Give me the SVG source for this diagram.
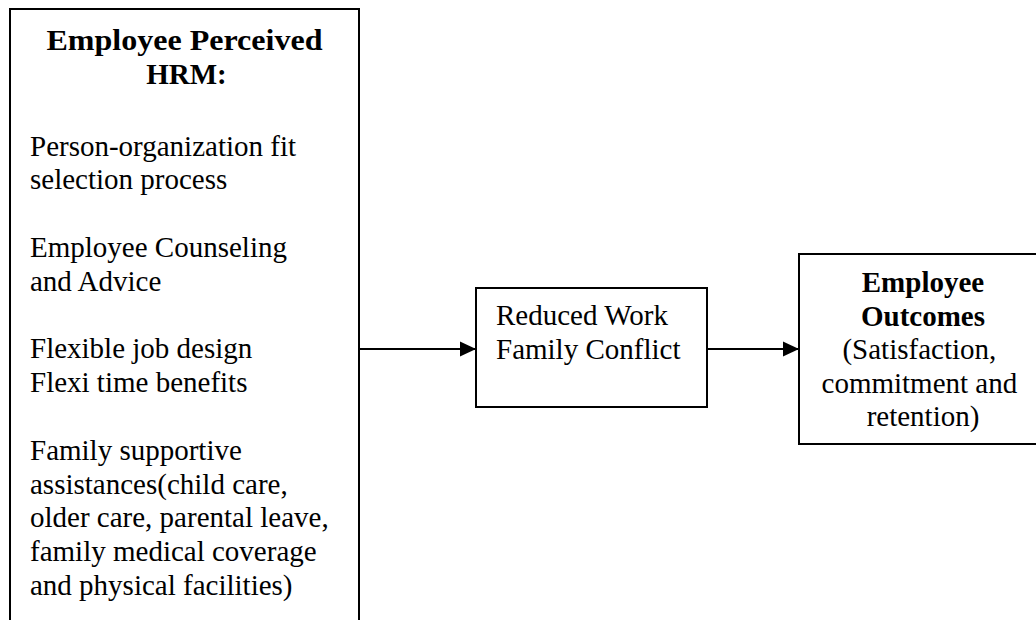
<svg xmlns="http://www.w3.org/2000/svg" width="1036" height="620" viewBox="0 0 1036 620">
<style>
.box{fill:#fff;stroke:#000;stroke-width:2}
.t{font-family:"Liberation Serif","Times New Roman",serif;font-size:29px;fill:#000}
.b{font-weight:bold}
.c{text-anchor:middle}
.conn{stroke:#000;stroke-width:2;fill:none}
</style>
<defs>
<marker id="arr" markerUnits="userSpaceOnUse" markerWidth="17" markerHeight="16" refX="16" refY="8" orient="auto">
<path d="M0,0.5 L16,8 L0,15.5 Z" fill="#000"/>
</marker>
</defs>
<rect width="1036" height="620" fill="#fff"/>
<g id="hrm">
<rect class="box" x="10" y="9" width="349" height="640"/>
<text class="t b c" x="184.5" y="50" textLength="276" lengthAdjust="spacingAndGlyphs">Employee Perceived</text>
<text class="t b c" x="186.5" y="84">HRM:</text>
<text class="t" x="30">
<tspan x="30" y="155.5">Person-organization fit</tspan>
<tspan x="30" y="189.3">selection process</tspan>
<tspan x="30" y="256.9">Employee Counseling</tspan>
<tspan x="30" y="290.7">and Advice</tspan>
<tspan x="30" y="358.3">Flexible job design</tspan>
<tspan x="30" y="392.1">Flexi time benefits</tspan>
<tspan x="30" y="459.7">Family supportive</tspan>
<tspan x="30" y="493.5">assistances(child care,</tspan>
<tspan x="30" y="527.3">older care, parental leave,</tspan>
<tspan x="30" y="561.1">family medical coverage</tspan>
<tspan x="30" y="594.9">and physical facilities)</tspan>
</text>
</g>
<g id="wfc">
<rect class="box" x="476" y="288" width="231" height="119"/>
<text class="t" x="496">
<tspan x="496" y="325">Reduced Work</tspan>
<tspan x="496" y="358.5">Family Conflict</tspan>
</text>
</g>
<g id="outcomes">
<rect class="box" x="799" y="254" width="252" height="190"/>
<text class="t b c" x="923" y="292">Employee</text>
<text class="t b c" x="923" y="325.5">Outcomes</text>
<text class="t c">
<tspan x="923" y="359">(Satisfaction,</tspan>
<tspan x="923" y="392.5">commitment and</tspan>
<tspan x="923" y="426">retention)</tspan>
</text>
</g>
<g id="connectors">
<line class="conn" x1="359" y1="349" x2="476" y2="349" marker-end="url(#arr)"/>
<line class="conn" x1="707" y1="349" x2="799" y2="349" marker-end="url(#arr)"/>
</g>
</svg>
